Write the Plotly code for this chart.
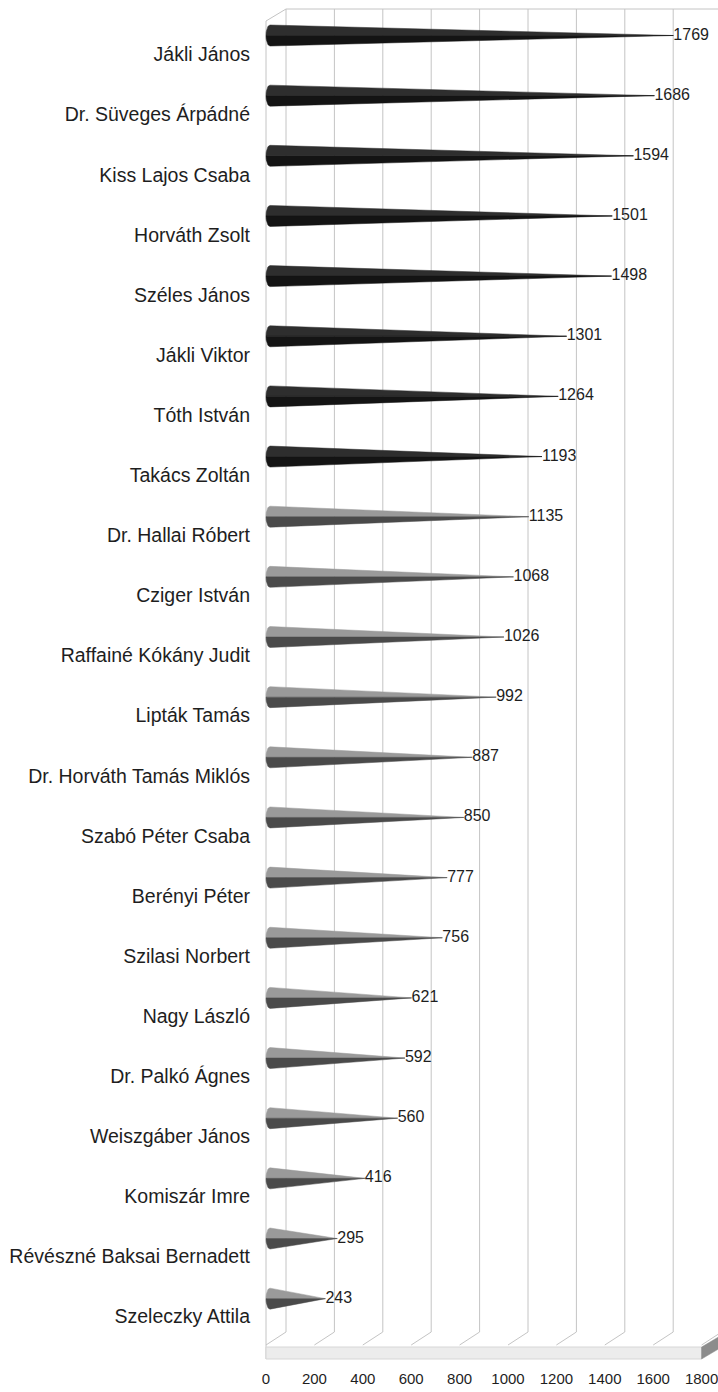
import numpy as np
import plotly.graph_objects as go

# ---------------- data ----------------
names = ["Jákli János", "Dr. Süveges Árpádné", "Kiss Lajos Csaba", "Horváth Zsolt",
         "Széles János", "Jákli Viktor", "Tóth István", "Takács Zoltán",
         "Dr. Hallai Róbert", "Cziger István", "Raffainé Kókány Judit", "Lipták Tamás",
         "Dr. Horváth Tamás Miklós", "Szabó Péter Csaba", "Berényi Péter", "Szilasi Norbert",
         "Nagy László", "Dr. Palkó Ágnes", "Weiszgáber János", "Komiszár Imre",
         "Révészné Baksai Bernadett", "Szeleczky Attila"]
votes = [1769, 1686, 1594, 1501, 1498, 1301, 1264, 1193, 1135, 1068, 1026, 992,
         887, 850, 777, 756, 621, 592, 560, 416, 295, 243]
elected = [True] * 8 + [False] * 14
x_ticks = [0, 200, 400, 600, 800, 1000, 1200, 1400, 1600, 1800]

# ---------------- geometry / style ----------------
W, H = 718, 1392
# plot area in screen pixels
PL, PR, PT, PB = 256, 718, 8, 1360
ML, MR, MT, MB = PL, W - PR, PT, H - PB
PH = PB - PT

FONT = "Liberation Sans, Arial, sans-serif"

# cone axis: value 0 -> screen px 270, 0.228 px per unit
cx0, ck = 270, 0.228
x_range = [(PL - cx0) / ck, (PR - cx0) / ck]
# front (tick) axis: 0 -> px 266, 0.242 px / unit
fx0, fk = 266, 0.242
x2_range = [(PL - fx0) / fk, (PR - fx0) / fk]
back_off = 20 / fk          # back wall shift in x2 units

# y axis for cones: centre screen px = 35.5 + 60.15*i
cy0, cs = 35.5, 60.15
y_range = [(PB - cy0) / cs, (PT - cy0) / cs]
# y axis for name labels: centre px = 54.5 + 60.1*i
ly0, ls = 54.5, 60.1
y2_range = [(PB - ly0) / ls, (PT - ly0) / ls]


def py(p):
    return 1 - (p - PT) / PH


fig = go.Figure()

n = len(names)
h = 10.5 / cs               # half height of cone base in y units
ax = 4 / ck                 # ellipse half-width in x units
theta = np.linspace(np.pi / 2, np.pi, 12)

for i, (v, el) in enumerate(zip(votes, elected)):
    top_c = "#2e2e2e" if el else "#9a9a9a"
    bot_c = "#141414" if el else "#4a4a4a"
    for sgn, col in ((-1, top_c), (1, bot_c)):
        xs = [0, v, 0] + list(ax * np.cos(theta)) + [0]
        ys = [i, i, i + sgn * h] + list(i + sgn * h * np.sin(theta)) + [i]
        fig.add_trace(go.Scatter(x=xs, y=ys, fill="toself", fillcolor=col,
                                 line=dict(color=col, width=0.5), mode="lines",
                                 hoverinfo="skip", showlegend=False))

# value labels
fig.add_trace(go.Scatter(x=votes, y=list(range(n)), mode="text",
                         text=[str(v) for v in votes], textposition="middle right",
                         textfont=dict(family=FONT, size=16, color="#1e1e1e"),
                         hoverinfo="skip", showlegend=False))

# invisible helper traces to carry the secondary axes
fig.add_trace(go.Scatter(x=votes, y=list(range(n)), xaxis="x", yaxis="y2",
                         mode="markers", marker=dict(opacity=0), hoverinfo="skip",
                         showlegend=False))
fig.add_trace(go.Scatter(x=x_ticks, y=[0] * len(x_ticks), xaxis="x2", yaxis="y",
                         mode="markers", marker=dict(opacity=0), hoverinfo="skip",
                         showlegend=False))

# ---------------- 3D frame decorations ----------------
grid_c = "#c4c4c4"
shapes = []
for t in x_ticks:
    shapes.append(dict(type="line", xref="x2", yref="paper", x0=t + back_off, x1=t + back_off,
                       y0=py(9), y1=py(1332), line=dict(color=grid_c, width=1), layer="below"))
    shapes.append(dict(type="line", xref="x2", yref="paper", x0=t + back_off, x1=t,
                       y0=py(1332), y1=py(1345), line=dict(color=grid_c, width=1), layer="below"))
# top border of back wall
shapes.append(dict(type="line", xref="x2", yref="paper", x0=x_ticks[0] + back_off, x1=x2_range[1],
                   y0=py(9), y1=py(9), line=dict(color=grid_c, width=1), layer="below"))
# left wall
shapes.append(dict(type="line", xref="x2", yref="paper", x0=x_ticks[0], x1=x_ticks[0],
                   y0=py(21), y1=py(1359), line=dict(color=grid_c, width=1), layer="below"))
shapes.append(dict(type="line", xref="x2", yref="paper", x0=x_ticks[0], x1=x_ticks[0] + back_off,
                   y0=py(21), y1=py(9), line=dict(color=grid_c, width=1), layer="below"))
# floor front face
shapes.append(dict(type="rect", xref="x2", yref="paper", x0=x_ticks[0], x1=x_ticks[-1],
                   y0=py(1359), y1=py(1347), fillcolor="#ececec",
                   line=dict(color="#d6d6d6", width=1), layer="below"))
# floor side face
xe = x_ticks[-1]
shapes.append(dict(type="path", xref="x2", yref="paper",
                   path=f"M {xe},{py(1359)} L {xe},{py(1347)} L {xe + 1.1*back_off},{py(1334)} "
                        f"L {xe + 1.1*back_off},{py(1346)} Z",
                   fillcolor="#8c8c8c", line=dict(color="#8c8c8c", width=0.5), layer="below"))

fig.update_layout(
    width=W, height=H,
    margin=dict(l=ML, r=MR, t=MT, b=MB, pad=0, autoexpand=False),
    paper_bgcolor="white", plot_bgcolor="white",
    showlegend=False,
    shapes=shapes,
    xaxis=dict(range=x_range, visible=False, fixedrange=True),
    xaxis2=dict(range=x2_range, overlaying="x", side="bottom", anchor="y",
                tickvals=x_ticks, ticktext=[str(t) for t in x_ticks],
                showgrid=False, zeroline=False, showline=False, ticks="",
                ticklabelstandoff=8, tickangle=0, automargin=False,
                ticklabeloverflow="allow",
                tickfont=dict(family=FONT, size=15, color="#1e1e1e")),
    yaxis=dict(range=y_range, visible=False, fixedrange=True),
    yaxis2=dict(range=y2_range, overlaying="y", side="left", anchor="x",
                tickvals=list(range(n)), ticktext=names, automargin=False,
                showgrid=False, zeroline=False, showline=False, ticks="",
                ticklabelstandoff=5, ticklabeloverflow="allow",
                tickfont=dict(family=FONT, size=19.5, color="#1e1e1e")),
)

fig.write_html("out.html",
               config={"displayModeBar": False},
               post_script="document.body.style.margin='0';"
                           "document.documentElement.style.overflow='hidden';")
